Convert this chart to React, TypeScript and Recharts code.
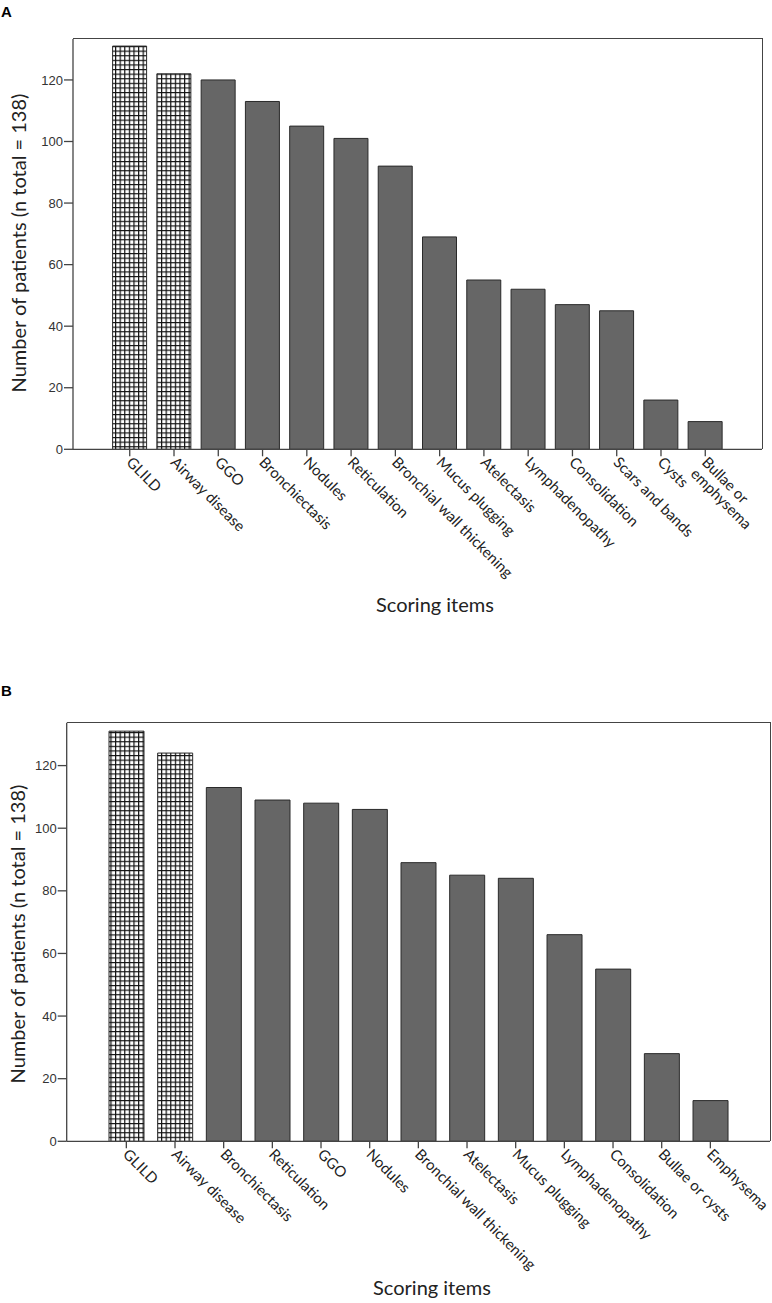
import React from 'react';
import { BarChart, Bar, XAxis, YAxis, Cell } from 'recharts';

const ITEMS_A = [
  'GLILD', 'Airway disease', 'GGO', 'Bronchiectasis', 'Nodules', 'Reticulation',
  'Bronchial wall thickening', 'Mucus plugging', 'Atelectasis', 'Lymphadenopathy',
  'Consolidation', 'Scars and bands', 'Cysts', 'Bullae or\nemphysema',
];
const COUNTS_A = [131, 122, 120, 113, 105, 101, 92, 69, 55, 52, 47, 45, 16, 9];

const ITEMS_B = [
  'GLILD', 'Airway disease', 'Bronchiectasis', 'Reticulation', 'GGO', 'Nodules',
  'Bronchial wall thickening', 'Atelectasis', 'Mucus plugging', 'Lymphadenopathy',
  'Consolidation', 'Bullae or cysts', 'Emphysema',
];
const COUNTS_B = [131, 124, 113, 109, 108, 106, 89, 85, 84, 66, 55, 28, 13];

const Y_TICKS = [0, 20, 40, 60, 80, 100, 120];
const HATCHED = ['GLILD', 'Airway disease'];

const Y_TITLE = 'Number of patients (n total = 138)';
const X_TITLE = 'Scoring items';

const LABEL_FONT = 'Lato, "Open Sans", sans-serif';
const NUM_FONT = '"Liberation Sans", Arial, sans-serif';
const LINE = '#444';
const Y_AXIS_W = 45;
const X_AXIS_W = 1.3;

const SlantTick = ({ x, y, payload }: any) => {
  const lines = String(payload.value).split('\n');
  return (
    <g transform={`translate(${x},${y})`}>
      <text transform="rotate(45)" x={2} y={8} fontSize={15} fontFamily={LABEL_FONT} fill="#222" textAnchor="start">
        {lines.map((l, i) => (
          <tspan key={i} x={2} dy={i === 0 ? 0 : 16}>{l}</tspan>
        ))}
      </text>
    </g>
  );
};

interface PanelProps {
  items: string[];
  counts: number[];
  top: number;
  height: number;
  marginTop: number;
  marginLeft: number;
  marginRight: number;
  xAxisHeight: number;
  yMax: number;
  pad: number;
  barSize: number;
  patternId: string;
}

const Panel: React.FC<PanelProps> = (p) => {
  const data = p.items.map((item, i) => ({ item, count: p.counts[i] }));
  const plotLeft = p.marginLeft + Y_AXIS_W;
  const plotW = 772 - plotLeft - p.marginRight;
  const plotH = p.height - p.marginTop - p.xAxisHeight;
  return (
    <div style={{ position: 'absolute', left: 0, top: p.top, width: 772, height: p.height }}>
      <BarChart
        width={772}
        height={p.height}
        data={data}
        margin={{ top: p.marginTop, right: p.marginRight, left: p.marginLeft, bottom: 0 }}
        barSize={p.barSize}
      >
        <defs>
          <pattern id={p.patternId} patternUnits="userSpaceOnUse" width={4.6} height={4.6}>
            <rect width={4.6} height={4.6} fill="#fff" />
            <path d="M0 0.6 H4.6 M0.6 0 V4.6" stroke="#111" strokeWidth={1.2} />
          </pattern>
        </defs>
        <XAxis
          dataKey="item"
          interval={0}
          height={p.xAxisHeight}
          padding={{ left: p.pad, right: p.pad }}
          tick={<SlantTick />}
          tickSize={7}
          tickMargin={0}
          tickLine={{ stroke: LINE, strokeWidth: X_AXIS_W }}
          axisLine={{ stroke: LINE, strokeWidth: X_AXIS_W }}
        />
        <YAxis
          width={Y_AXIS_W}
          domain={[0, p.yMax]}
          ticks={Y_TICKS}
          allowDataOverflow
          tickSize={9}
          tickMargin={1}
          tick={{ fontSize: 13, fontFamily: NUM_FONT, fill: '#333' }}
          tickLine={{ stroke: LINE, strokeWidth: X_AXIS_W }}
          axisLine={{ stroke: LINE, strokeWidth: X_AXIS_W }}
        />
        <Bar dataKey="count" stroke="#2a2a2a" strokeWidth={1} isAnimationActive={false}>
          {data.map((d, i) => (
            <Cell key={`cell-${i}`} fill={HATCHED.includes(d.item) ? `url(#${p.patternId})` : '#666666'} />
          ))}
        </Bar>
      </BarChart>
      {/* top and right edges of the plot frame */}
      <div
        style={{
          position: 'absolute', left: plotLeft, top: p.marginTop - 0.65, width: plotW + 0.65, height: plotH,
          borderTop: `${X_AXIS_W}px solid ${LINE}`, borderRight: `${X_AXIS_W}px solid ${LINE}`,
          boxSizing: 'border-box', pointerEvents: 'none',
        }}
      />
    </div>
  );
};

const YTitle = ({ cx, cy }: { cx: number; cy: number }) => (
  <div
    style={{
      position: 'absolute', left: cx - 200, top: cy - 14, width: 400, height: 28,
      lineHeight: '28px', textAlign: 'center', transform: 'rotate(-90deg)',
      fontFamily: LABEL_FONT, fontSize: 20, color: '#222', whiteSpace: 'nowrap',
    }}
  >
    {Y_TITLE}
  </div>
);

const XTitle = ({ cx, cy }: { cx: number; cy: number }) => (
  <div
    style={{
      position: 'absolute', left: cx - 150, top: cy - 14, width: 300, height: 28,
      lineHeight: '28px', textAlign: 'center',
      fontFamily: LABEL_FONT, fontSize: 20, color: '#222', whiteSpace: 'nowrap',
    }}
  >
    {X_TITLE}
  </div>
);

const Letter = ({ text, top }: { text: string; top: number }) => (
  <div
    style={{
      position: 'absolute', left: 1, top, fontFamily: NUM_FONT, fontWeight: 'bold',
      fontSize: 15, lineHeight: '15px', color: '#000',
    }}
  >
    {text}
  </div>
);

export default function App() {
  return (
    <div style={{ position: 'absolute', left: 0, top: 0, width: 772, height: 1303, background: '#fff', overflow: 'hidden' }}>
      <Panel
        items={ITEMS_A}
        counts={COUNTS_A}
        top={0}
        height={620}
        marginTop={39}
        marginLeft={28}
        marginRight={10}
        xAxisHeight={170.7}
        yMax={133.3}
        pad={34.6}
        barSize={34}
        patternId="hatchA"
      />
      <Panel
        items={ITEMS_B}
        counts={COUNTS_B}
        top={640}
        height={663}
        marginTop={82.7}
        marginLeft={21.7}
        marginRight={2}
        xAxisHeight={161.7}
        yMax={133.7}
        pad={35.3}
        barSize={35}
        patternId="hatchB"
      />
      <Letter text="A" top={4} />
      <Letter text="B" top={683} />
      <YTitle cx={18} cy={243} />
      <YTitle cx={17} cy={934} />
      <XTitle cx={435} cy={604} />
      <XTitle cx={432} cy={1287} />
    </div>
  );
}
